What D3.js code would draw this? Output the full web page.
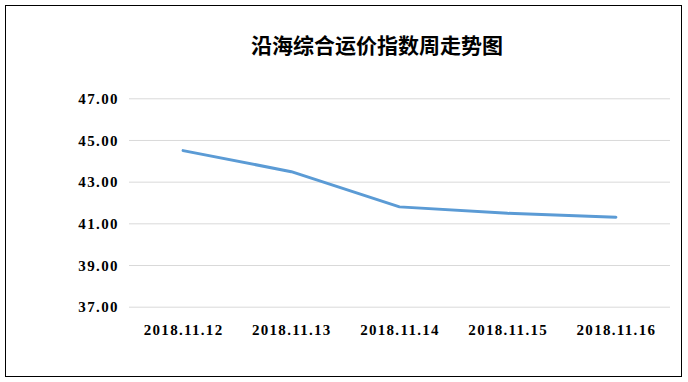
<!DOCTYPE html>
<html>
<head>
<meta charset="utf-8">
<script src="https://cdn.jsdelivr.net/npm/d3@7"></script>
<style>
  body { margin: 0; background: #fff; }
</style>
</head>
<body>
<div id="chart"></div>
<script>
// chart data
var chartTitle = "沿海综合运价指数周走势图";
var dates = ["2018.11.12", "2018.11.13", "2018.11.14", "2018.11.15", "2018.11.16"];
var indexValues = [44.49, 43.48, 41.79, 41.48, 41.29];
var yTicks = [37, 39, 41, 43, 45, 47];

var svgWidth = 688;
var svgHeight = 382;

var margin = { top: 98.3, right: 18, bottom: 75.3, left: 129 };
var width = svgWidth - margin.left - margin.right;
var height = svgHeight - margin.top - margin.bottom;

var numFont = "'Liberation Serif', 'DejaVu Serif', serif";

var svg = d3.select("#chart")
  .append("svg")
  .attr("width", svgWidth)
  .attr("height", svgHeight);

// outer frame
svg.append("rect")
  .attr("x", 5.5)
  .attr("y", 5.5)
  .attr("width", 676)
  .attr("height", 371)
  .attr("fill", "#fff")
  .attr("stroke", "#000")
  .attr("stroke-width", 1);

svg.append("text")
  .attr("x", 377)
  .attr("y", 53)
  .attr("text-anchor", "middle")
  .attr("font-family", "'Noto Sans CJK SC', sans-serif")
  .attr("font-weight", "bold")
  .attr("font-size", "21px")
  .attr("fill", "#000")
  .text(chartTitle);

var chartGroup = svg.append("g")
  .attr("transform", `translate(${margin.left}, ${margin.top})`);

// scales
var xScale = d3.scalePoint()
  .domain(dates)
  .range([0, width])
  .padding(0.5);

var yScale = d3.scaleLinear()
  .domain([37, 47])
  .range([height, 0]);

// gridlines
var leftAxis = d3.axisLeft(yScale)
  .tickValues(yTicks)
  .tickSize(-width)
  .tickPadding(10)
  .tickFormat(d3.format(".2f"));

var yAxisG = chartGroup.append("g").call(leftAxis);
yAxisG.select(".domain").remove();
yAxisG.selectAll(".tick line")
  .attr("stroke", "#d9d9d9")
  .attr("stroke-width", 1);
yAxisG.selectAll(".tick text")
  .attr("font-family", numFont)
  .attr("font-weight", "bold")
  .attr("font-size", "15px")
  .attr("letter-spacing", "1.4px")
  .attr("fill", "#000")
  .attr("dy", "0.35em");

var bottomAxis = d3.axisBottom(xScale)
  .tickSize(0)
  .tickPadding(18);

var xAxisG = chartGroup.append("g")
  .attr("transform", `translate(0, ${height})`)
  .call(bottomAxis);
xAxisG.select(".domain").remove();
xAxisG.selectAll(".tick text")
  .attr("font-family", numFont)
  .attr("font-weight", "bold")
  .attr("font-size", "15px")
  .attr("letter-spacing", "1.3px")
  .attr("fill", "#000");

// line
var line = d3.line()
  .x((d, i) => xScale(dates[i]))
  .y(d => yScale(d));

chartGroup.append("path")
  .datum(indexValues)
  .attr("d", line)
  .attr("fill", "none")
  .attr("stroke", "#5b9bd5")
  .attr("stroke-width", 3)
  .attr("stroke-linecap", "round")
  .attr("stroke-linejoin", "round");
</script>
</body>
</html>
